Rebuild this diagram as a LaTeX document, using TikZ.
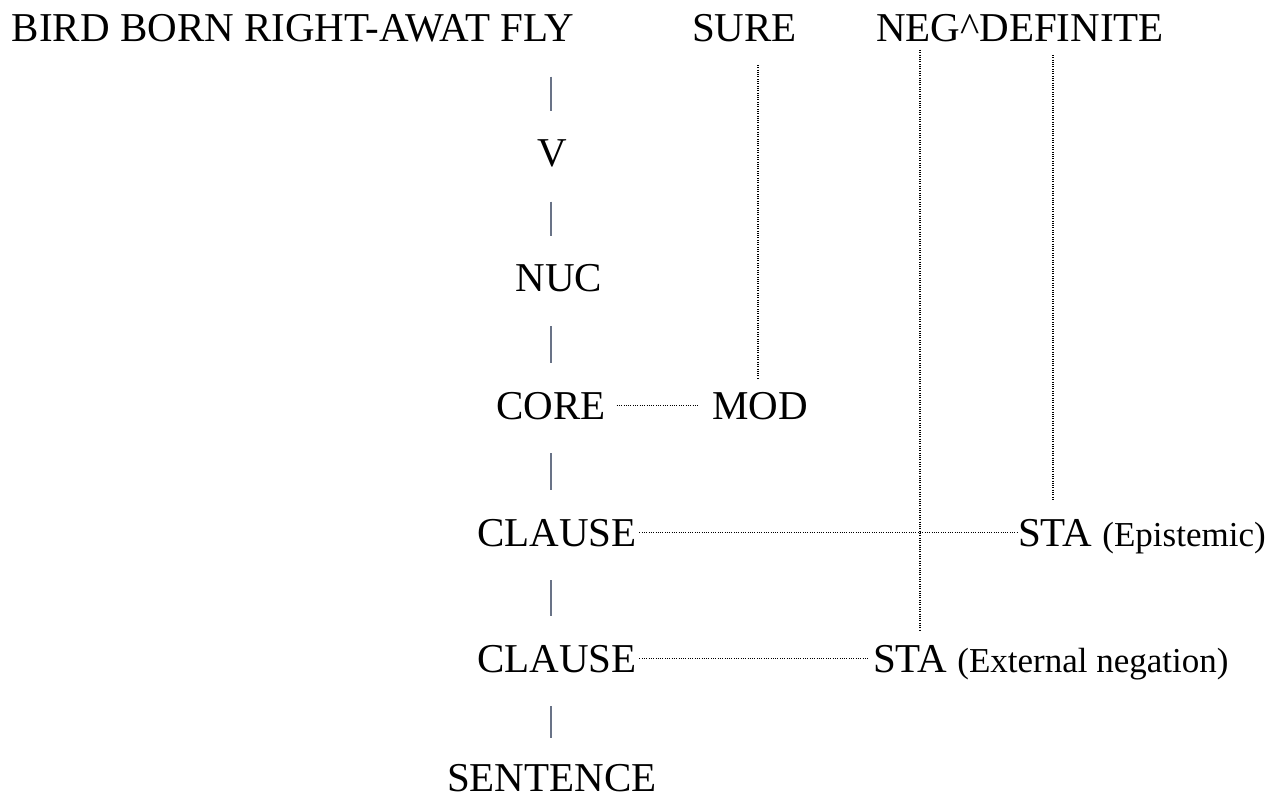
\documentclass[tikz,border=0pt]{standalone}
\usepackage{fontspec}
\setmainfont{Liberation Serif}
\newcommand{\parenfont}{\fontsize{35}{35}\selectfont}
\definecolor{treegray}{RGB}{105,115,135}
\begin{document}
\begin{tikzpicture}[x=1pt,y=-1pt,
  lbl/.style={inner sep=0pt,outer sep=0pt,font=\fontsize{41}{41}\selectfont},
  treeline/.style={draw=treegray,line width=1.6pt,shorten <=34pt,shorten >=29pt},
  dotline/.style={draw=black,line width=1.1pt,dash pattern=on 1pt off 1.3pt}]
\useasboundingbox[fill=white] (0,0) rectangle (1268,799);
% top row
\node[lbl,anchor=base west] (bird) at (12,42) {BIRD BORN RIGHT-AWAT FLY};
\node[lbl,anchor=base west] (sure) at (692,42) {SURE};
\node[lbl,anchor=base west] (negdef) at (876,42) {NEG\textasciicircum DEFINITE};
% spine
\node[lbl,anchor=base] (V) at (552,167) {V};
\node[lbl,anchor=base] (NUC) at (559,292) {NUC};
\node[lbl,anchor=base] (CORE) at (551,419) {CORE};
\node[lbl,anchor=base west] (MOD) at (712,419) {MOD};
\node[lbl,anchor=base west] (CL1) at (477,546) {CLAUSE};
\node[lbl,anchor=base west] (STAe) at (1018,546) {STA {\parenfont(Epistemic)}};
\node[lbl,anchor=base west] (CL2) at (477,672) {CLAUSE};
\node[lbl,anchor=base west] (STAx) at (873,672) {STA {\parenfont(External negation)}};
\node[lbl,anchor=base west] (SENT) at (447,791) {SENTENCE};
% helper coordinates
\coordinate (trunk) at (551,0);
\coordinate (suretop) at (758,65);
\coordinate (negtop) at (920,50);
\coordinate (deftop) at (1053,55);
% solid tree lines
\draw[treeline] (bird.south -| trunk) -- (V.north -| trunk);
\draw[treeline] (V.south -| trunk) -- (NUC.north -| trunk);
\draw[treeline] (NUC.south -| trunk) -- (CORE.north -| trunk);
\draw[treeline] (CORE.south -| trunk) -- (CL1.north -| trunk);
\draw[treeline] (CL1.base -| trunk) -- (CL2.north -| trunk);
\draw[treeline,shorten >=26pt] (CL2.base -| trunk) -- (SENT.north -| trunk);
% dotted horizontal
\draw[dotline] ([xshift=11pt,yshift=13.5pt]CORE.base east) -- ([xshift=-14pt,yshift=13.5pt]MOD.base west);
\draw[dotline] ([xshift=3pt,yshift=13.5pt]CL1.base east) -- ([yshift=13.5pt]STAe.base west);
\draw[dotline] ([xshift=3pt,yshift=13.5pt]CL2.base east) -- ([xshift=-5pt,yshift=13.5pt]STAx.base west);
% dotted vertical
\draw[dotline,shorten >=14pt] (suretop) -- (suretop |- MOD.north);
\draw[dotline,shorten >=13pt] (negtop) -- (negtop |- STAx.north);
\draw[dotline,shorten >=19pt] (deftop) -- (deftop |- STAe.north);
\end{tikzpicture}
\end{document}
